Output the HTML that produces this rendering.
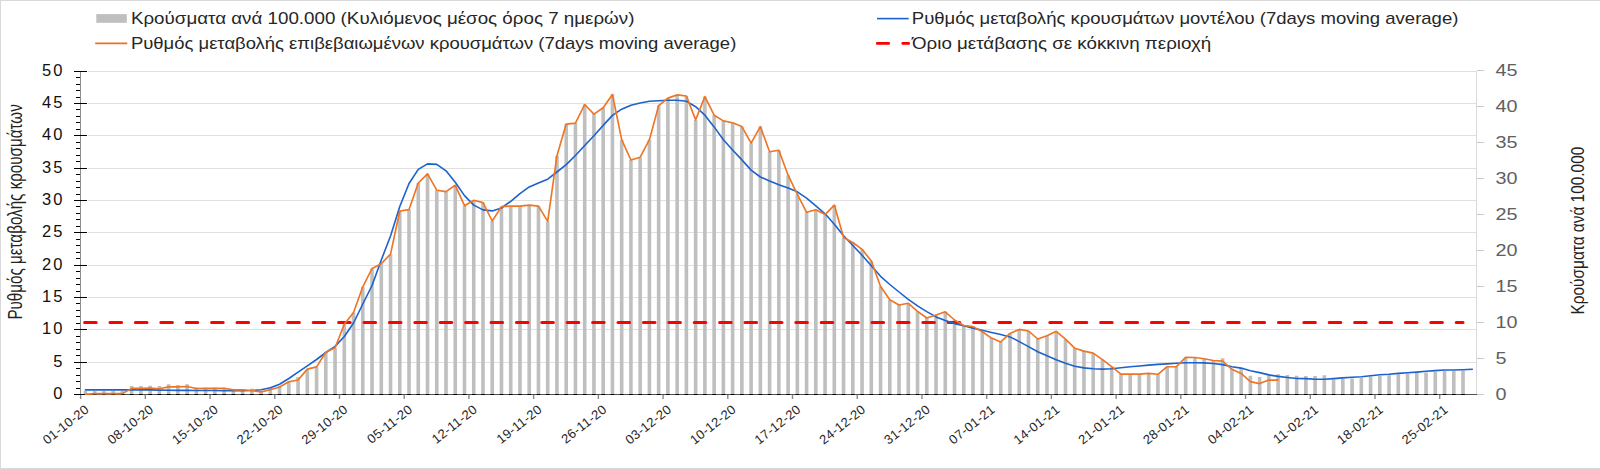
<!DOCTYPE html><html><head><meta charset="utf-8"><title>Chart</title><style>
html,body{margin:0;padding:0;background:#fff;}svg{display:block;}
text{font-family:'Liberation Sans', Arial, sans-serif;}
</style></head><body>
<svg width="1600" height="469" viewBox="0 0 1600 469">
<rect x="0" y="0" width="1600" height="469" fill="#fff"/>
<rect x="0.5" y="0.5" width="1610" height="468" fill="none" stroke="#d9d9d9" stroke-width="1"/>
<path d="M88,362.5H1476.9 M88,329.5H1476.9 M88,297.5H1476.9 M88,265.5H1476.9 M88,232.5H1476.9 M88,200.5H1476.9 M88,168.5H1476.9 M88,135.5H1476.9 M88,103.5H1476.9 M88,71.5H1476.9" stroke="#e0e0e0" stroke-width="1" fill="none"/>
<path d="M83.62,391.00h3.6v3.50h-3.6z M92.87,391.00h3.6v3.50h-3.6z M102.11,391.00h3.6v3.50h-3.6z M111.36,391.00h3.6v3.50h-3.6z M120.61,391.00h3.6v3.50h-3.6z M129.85,386.10h3.6v8.40h-3.6z M139.10,386.10h3.6v8.40h-3.6z M148.34,385.80h3.6v8.70h-3.6z M157.59,386.10h3.6v8.40h-3.6z M166.83,384.30h3.6v10.20h-3.6z M176.08,385.00h3.6v9.50h-3.6z M185.33,384.30h3.6v10.20h-3.6z M194.57,387.50h3.6v7.00h-3.6z M203.82,387.70h3.6v6.80h-3.6z M213.06,387.70h3.6v6.80h-3.6z M222.31,387.70h3.6v6.80h-3.6z M231.55,389.10h3.6v5.40h-3.6z M240.80,389.10h3.6v5.40h-3.6z M250.05,388.80h3.6v5.70h-3.6z M259.29,391.00h3.6v3.50h-3.6z M268.54,387.70h3.6v6.80h-3.6z M277.78,386.30h3.6v8.20h-3.6z M287.03,381.40h3.6v13.10h-3.6z M296.27,377.10h3.6v17.40h-3.6z M305.52,370.10h3.6v24.40h-3.6z M314.77,366.90h3.6v27.60h-3.6z M324.01,352.30h3.6v42.20h-3.6z M333.26,347.80h3.6v46.70h-3.6z M342.50,324.20h3.6v70.30h-3.6z M351.75,312.50h3.6v82.00h-3.6z M360.99,286.80h3.6v107.70h-3.6z M370.24,268.50h3.6v126.00h-3.6z M379.49,263.70h3.6v130.80h-3.6z M388.73,254.20h3.6v140.30h-3.6z M397.98,211.00h3.6v183.50h-3.6z M407.22,209.60h3.6v184.90h-3.6z M416.47,183.00h3.6v211.50h-3.6z M425.71,173.80h3.6v220.70h-3.6z M434.96,190.20h3.6v204.30h-3.6z M444.20,191.60h3.6v202.90h-3.6z M453.45,185.30h3.6v209.20h-3.6z M462.70,205.70h3.6v188.80h-3.6z M471.94,200.30h3.6v194.20h-3.6z M481.19,202.60h3.6v191.90h-3.6z M490.43,221.00h3.6v173.50h-3.6z M499.68,206.60h3.6v187.90h-3.6z M508.92,206.10h3.6v188.40h-3.6z M518.17,206.10h3.6v188.40h-3.6z M527.42,205.10h3.6v189.40h-3.6z M536.66,206.10h3.6v188.40h-3.6z M545.91,221.40h3.6v173.10h-3.6z M555.15,155.70h3.6v238.80h-3.6z M564.40,124.10h3.6v270.40h-3.6z M573.64,123.10h3.6v271.40h-3.6z M582.89,104.50h3.6v290.00h-3.6z M592.14,114.10h3.6v280.40h-3.6z M601.38,107.70h3.6v286.80h-3.6z M610.63,94.50h3.6v300.00h-3.6z M619.87,139.70h3.6v254.80h-3.6z M629.12,160.00h3.6v234.50h-3.6z M638.36,157.20h3.6v237.30h-3.6z M647.61,139.70h3.6v254.80h-3.6z M656.86,105.60h3.6v288.90h-3.6z M666.10,98.10h3.6v296.40h-3.6z M675.35,94.90h3.6v299.60h-3.6z M684.59,96.00h3.6v298.50h-3.6z M693.84,119.90h3.6v274.60h-3.6z M703.08,96.60h3.6v297.90h-3.6z M712.33,115.20h3.6v279.30h-3.6z M721.58,120.90h3.6v273.60h-3.6z M730.82,122.70h3.6v271.80h-3.6z M740.07,126.60h3.6v267.90h-3.6z M749.31,143.20h3.6v251.30h-3.6z M758.56,126.60h3.6v267.90h-3.6z M767.80,151.70h3.6v242.80h-3.6z M777.05,150.20h3.6v244.30h-3.6z M786.30,175.20h3.6v219.30h-3.6z M795.54,194.40h3.6v200.10h-3.6z M804.79,212.30h3.6v182.20h-3.6z M814.03,209.70h3.6v184.80h-3.6z M823.28,214.60h3.6v179.90h-3.6z M832.52,205.10h3.6v189.40h-3.6z M841.77,237.50h3.6v157.00h-3.6z M851.02,242.50h3.6v152.00h-3.6z M860.26,249.30h3.6v145.20h-3.6z M869.51,261.00h3.6v133.50h-3.6z M878.75,286.50h3.6v108.00h-3.6z M888.00,299.80h3.6v94.70h-3.6z M897.24,305.00h3.6v89.50h-3.6z M906.49,303.30h3.6v91.20h-3.6z M915.74,311.30h3.6v83.20h-3.6z M924.98,318.00h3.6v76.50h-3.6z M934.23,315.00h3.6v79.50h-3.6z M943.47,311.80h3.6v82.70h-3.6z M952.72,320.00h3.6v74.50h-3.6z M961.96,325.50h3.6v69.00h-3.6z M971.21,326.60h3.6v67.90h-3.6z M980.46,331.80h3.6v62.70h-3.6z M989.70,338.10h3.6v56.40h-3.6z M998.95,341.90h3.6v52.60h-3.6z M1008.19,333.40h3.6v61.10h-3.6z M1017.44,329.40h3.6v65.10h-3.6z M1026.68,331.00h3.6v63.50h-3.6z M1035.93,339.00h3.6v55.50h-3.6z M1045.18,335.80h3.6v58.70h-3.6z M1054.42,331.30h3.6v63.20h-3.6z M1063.67,339.20h3.6v55.30h-3.6z M1072.91,348.20h3.6v46.30h-3.6z M1082.16,351.10h3.6v43.40h-3.6z M1091.40,353.10h3.6v41.40h-3.6z M1100.65,359.60h3.6v34.90h-3.6z M1109.90,366.70h3.6v27.80h-3.6z M1119.14,374.10h3.6v20.40h-3.6z M1128.39,374.10h3.6v20.40h-3.6z M1137.63,374.10h3.6v20.40h-3.6z M1146.88,373.40h3.6v21.10h-3.6z M1156.12,374.30h3.6v20.20h-3.6z M1165.37,366.70h3.6v27.80h-3.6z M1174.61,366.70h3.6v27.80h-3.6z M1183.86,357.40h3.6v37.10h-3.6z M1193.11,357.50h3.6v37.00h-3.6z M1202.35,358.80h3.6v35.70h-3.6z M1211.60,360.50h3.6v34.00h-3.6z M1220.84,358.20h3.6v36.30h-3.6z M1230.09,368.70h3.6v25.80h-3.6z M1239.33,368.70h3.6v25.80h-3.6z M1248.58,375.80h3.6v18.70h-3.6z M1257.83,376.90h3.6v17.60h-3.6z M1267.07,375.20h3.6v19.30h-3.6z M1276.32,374.20h3.6v20.30h-3.6z M1285.56,374.90h3.6v19.60h-3.6z M1294.81,375.70h3.6v18.80h-3.6z M1304.05,376.00h3.6v18.50h-3.6z M1313.30,376.00h3.6v18.50h-3.6z M1322.55,375.30h3.6v19.20h-3.6z M1331.79,379.50h3.6v15.00h-3.6z M1341.04,379.00h3.6v15.50h-3.6z M1350.28,378.50h3.6v16.00h-3.6z M1359.53,377.90h3.6v16.60h-3.6z M1368.77,376.50h3.6v18.00h-3.6z M1378.02,376.00h3.6v18.50h-3.6z M1387.27,375.30h3.6v19.20h-3.6z M1396.51,374.20h3.6v20.30h-3.6z M1405.76,373.70h3.6v20.80h-3.6z M1415.00,373.10h3.6v21.40h-3.6z M1424.25,372.50h3.6v22.00h-3.6z M1433.49,372.00h3.6v22.50h-3.6z M1442.74,371.00h3.6v23.50h-3.6z M1451.99,371.00h3.6v23.50h-3.6z M1461.23,370.80h3.6v23.70h-3.6z" fill="#bfbfbf"/>
<path d="M1476.5,71V395" stroke="#d9d9d9" stroke-width="1"/>
<path d="M1477,394.5H1484 M1477,358.5H1484 M1477,322.5H1484 M1477,286.5H1484 M1477,250.5H1484 M1477,214.5H1484 M1477,178.5H1484 M1477,142.5H1484 M1477,106.5H1484 M1477,70.5H1484" stroke="#c8c8c8" stroke-width="1"/>
<path d="M74,394.5H1477" stroke="#505050" stroke-width="1"/>
<path d="M83.62,394.5h3.6 M92.87,394.5h3.6 M102.11,394.5h3.6 M111.36,394.5h3.6 M120.61,394.5h3.6 M129.85,394.5h3.6 M139.10,394.5h3.6 M148.34,394.5h3.6 M157.59,394.5h3.6 M166.83,394.5h3.6 M176.08,394.5h3.6 M185.33,394.5h3.6 M194.57,394.5h3.6 M203.82,394.5h3.6 M213.06,394.5h3.6 M222.31,394.5h3.6 M231.55,394.5h3.6 M240.80,394.5h3.6 M250.05,394.5h3.6 M259.29,394.5h3.6 M268.54,394.5h3.6 M277.78,394.5h3.6 M287.03,394.5h3.6 M296.27,394.5h3.6 M305.52,394.5h3.6 M314.77,394.5h3.6 M324.01,394.5h3.6 M333.26,394.5h3.6 M342.50,394.5h3.6 M351.75,394.5h3.6 M360.99,394.5h3.6 M370.24,394.5h3.6 M379.49,394.5h3.6 M388.73,394.5h3.6 M397.98,394.5h3.6 M407.22,394.5h3.6 M416.47,394.5h3.6 M425.71,394.5h3.6 M434.96,394.5h3.6 M444.20,394.5h3.6 M453.45,394.5h3.6 M462.70,394.5h3.6 M471.94,394.5h3.6 M481.19,394.5h3.6 M490.43,394.5h3.6 M499.68,394.5h3.6 M508.92,394.5h3.6 M518.17,394.5h3.6 M527.42,394.5h3.6 M536.66,394.5h3.6 M545.91,394.5h3.6 M555.15,394.5h3.6 M564.40,394.5h3.6 M573.64,394.5h3.6 M582.89,394.5h3.6 M592.14,394.5h3.6 M601.38,394.5h3.6 M610.63,394.5h3.6 M619.87,394.5h3.6 M629.12,394.5h3.6 M638.36,394.5h3.6 M647.61,394.5h3.6 M656.86,394.5h3.6 M666.10,394.5h3.6 M675.35,394.5h3.6 M684.59,394.5h3.6 M693.84,394.5h3.6 M703.08,394.5h3.6 M712.33,394.5h3.6 M721.58,394.5h3.6 M730.82,394.5h3.6 M740.07,394.5h3.6 M749.31,394.5h3.6 M758.56,394.5h3.6 M767.80,394.5h3.6 M777.05,394.5h3.6 M786.30,394.5h3.6 M795.54,394.5h3.6 M804.79,394.5h3.6 M814.03,394.5h3.6 M823.28,394.5h3.6 M832.52,394.5h3.6 M841.77,394.5h3.6 M851.02,394.5h3.6 M860.26,394.5h3.6 M869.51,394.5h3.6 M878.75,394.5h3.6 M888.00,394.5h3.6 M897.24,394.5h3.6 M906.49,394.5h3.6 M915.74,394.5h3.6 M924.98,394.5h3.6 M934.23,394.5h3.6 M943.47,394.5h3.6 M952.72,394.5h3.6 M961.96,394.5h3.6 M971.21,394.5h3.6 M980.46,394.5h3.6 M989.70,394.5h3.6 M998.95,394.5h3.6 M1008.19,394.5h3.6 M1017.44,394.5h3.6 M1026.68,394.5h3.6 M1035.93,394.5h3.6 M1045.18,394.5h3.6 M1054.42,394.5h3.6 M1063.67,394.5h3.6 M1072.91,394.5h3.6 M1082.16,394.5h3.6 M1091.40,394.5h3.6 M1100.65,394.5h3.6 M1109.90,394.5h3.6 M1119.14,394.5h3.6 M1128.39,394.5h3.6 M1137.63,394.5h3.6 M1146.88,394.5h3.6 M1156.12,394.5h3.6 M1165.37,394.5h3.6 M1174.61,394.5h3.6 M1183.86,394.5h3.6 M1193.11,394.5h3.6 M1202.35,394.5h3.6 M1211.60,394.5h3.6 M1220.84,394.5h3.6 M1230.09,394.5h3.6 M1239.33,394.5h3.6 M1248.58,394.5h3.6 M1257.83,394.5h3.6 M1267.07,394.5h3.6 M1276.32,394.5h3.6 M1285.56,394.5h3.6 M1294.81,394.5h3.6 M1304.05,394.5h3.6 M1313.30,394.5h3.6 M1322.55,394.5h3.6 M1331.79,394.5h3.6 M1341.04,394.5h3.6 M1350.28,394.5h3.6 M1359.53,394.5h3.6 M1368.77,394.5h3.6 M1378.02,394.5h3.6 M1387.27,394.5h3.6 M1396.51,394.5h3.6 M1405.76,394.5h3.6 M1415.00,394.5h3.6 M1424.25,394.5h3.6 M1433.49,394.5h3.6 M1442.74,394.5h3.6 M1451.99,394.5h3.6 M1461.23,394.5h3.6" stroke="#000" stroke-width="1"/>
<path d="M80.60,395V399 M145.32,395V399 M210.04,395V399 M274.76,395V399 M339.48,395V399 M404.20,395V399 M468.92,395V399 M533.64,395V399 M598.36,395V399 M663.08,395V399 M727.80,395V399 M792.52,395V399 M857.24,395V399 M921.96,395V399 M986.68,395V399 M1051.40,395V399 M1116.12,395V399 M1180.84,395V399 M1245.56,395V399 M1310.28,395V399 M1375.00,395V399 M1439.72,395V399" stroke="#8a8a8a" stroke-width="1.4"/>
<path d="M80.5,71V399" stroke="#8c8c8c" stroke-width="1"/>
<path d="M74,394.5H87 M76,388.5H80 M76,381.5H80 M76,375.5H80 M76,368.5H80 M74,362.5H87 M76,355.5H80 M76,349.5H80 M76,342.5H80 M76,336.5H80 M74,329.5H87 M76,323.5H80 M76,316.5H80 M76,310.5H80 M76,303.5H80 M74,297.5H87 M76,291.5H80 M76,284.5H80 M76,278.5H80 M76,271.5H80 M74,265.5H87 M76,258.5H80 M76,252.5H80 M76,245.5H80 M76,239.5H80 M74,232.5H87 M76,226.5H80 M76,219.5H80 M76,213.5H80 M76,206.5H80 M74,200.5H87 M76,194.5H80 M76,187.5H80 M76,181.5H80 M76,174.5H80 M74,168.5H87 M76,161.5H80 M76,155.5H80 M76,148.5H80 M76,142.5H80 M74,135.5H87 M76,129.5H80 M76,122.5H80 M76,116.5H80 M76,109.5H80 M74,103.5H87 M76,97.5H80 M76,90.5H80 M76,84.5H80 M76,77.5H80 M74,71.5H87" stroke="#000" stroke-width="1"/>
<path d="M84.6,322.6H1463.03" stroke="#ff0000" stroke-width="3" stroke-linecap="round" stroke-dasharray="11.6 13.8" fill="none"/>
<path d="M85.42,389.90 L94.67,389.90 L103.91,389.90 L113.16,389.90 L122.41,389.90 L131.65,389.90 L140.90,389.90 L150.14,389.90 L159.39,390.10 L168.63,390.30 L177.88,390.40 L187.13,390.40 L196.37,390.50 L205.62,390.50 L214.86,390.50 L224.11,390.70 L233.35,390.70 L242.60,390.70 L251.85,390.50 L261.09,389.80 L270.34,387.70 L279.58,384.20 L288.83,378.50 L298.07,372.20 L307.32,365.90 L316.57,359.50 L325.81,352.50 L335.06,346.40 L344.30,336.50 L353.55,323.00 L362.79,304.00 L372.04,285.50 L381.29,260.00 L390.53,236.00 L399.78,206.50 L409.02,183.50 L418.27,169.40 L427.51,163.90 L436.76,164.40 L446.00,170.80 L455.25,182.30 L464.50,195.60 L473.74,205.10 L482.99,209.90 L492.23,210.90 L501.48,208.00 L510.72,201.30 L519.97,193.60 L529.22,186.90 L538.46,183.00 L547.71,179.20 L556.95,172.00 L566.20,164.60 L575.44,155.50 L584.69,145.50 L593.94,135.70 L603.18,125.40 L612.43,115.40 L621.67,109.20 L630.92,105.20 L640.16,103.00 L649.41,101.30 L658.66,100.70 L667.90,100.30 L677.15,100.30 L686.39,101.30 L695.64,106.70 L704.88,115.20 L714.13,126.90 L723.38,139.70 L732.62,150.00 L741.87,159.90 L751.11,170.10 L760.36,177.00 L769.60,181.10 L778.85,184.70 L788.10,188.00 L797.34,191.80 L806.59,198.20 L815.83,205.90 L825.08,213.80 L834.32,224.30 L843.57,235.80 L852.82,245.50 L862.06,255.30 L871.31,265.80 L880.55,276.30 L889.80,284.50 L899.04,292.00 L908.29,299.30 L917.54,305.90 L926.78,311.60 L936.03,316.90 L945.27,320.60 L954.52,323.60 L963.76,325.80 L973.01,328.10 L982.26,330.30 L991.50,332.50 L1000.75,334.50 L1009.99,336.90 L1019.24,341.60 L1028.48,346.60 L1037.73,351.80 L1046.98,355.80 L1056.22,359.70 L1065.47,363.30 L1074.71,366.30 L1083.96,367.90 L1093.20,368.70 L1102.45,369.10 L1111.70,368.80 L1120.94,367.80 L1130.19,366.70 L1139.43,366.00 L1148.68,365.10 L1157.92,364.40 L1167.17,363.90 L1176.41,363.30 L1185.66,362.80 L1194.91,362.80 L1204.15,362.90 L1213.40,363.50 L1222.64,364.60 L1231.89,366.70 L1241.13,368.10 L1250.38,370.70 L1259.63,372.60 L1268.87,374.90 L1278.12,376.40 L1287.36,377.50 L1296.61,378.50 L1305.85,378.60 L1315.10,379.20 L1324.35,379.20 L1333.59,378.60 L1342.84,377.90 L1352.08,377.30 L1361.33,376.70 L1370.57,375.70 L1379.82,374.80 L1389.07,374.30 L1398.31,373.40 L1407.56,372.70 L1416.80,372.10 L1426.05,371.30 L1435.29,370.60 L1444.54,370.00 L1453.79,370.00 L1463.03,369.70 L1472.28,369.20" stroke="#1c62cc" stroke-width="1.6" fill="none" stroke-linejoin="round" stroke-linecap="round"/>
<path d="M85.42,394.20 L94.67,393.60 L103.91,393.60 L113.16,393.60 L122.41,393.60 L131.65,388.40 L140.90,388.40 L150.14,388.00 L159.39,388.70 L168.63,386.90 L177.88,386.90 L187.13,386.50 L196.37,388.50 L205.62,388.40 L214.86,388.40 L224.11,388.40 L233.35,389.80 L242.60,389.80 L251.85,390.50 L261.09,391.90 L270.34,389.80 L279.58,387.00 L288.83,381.80 L298.07,380.00 L307.32,369.10 L316.57,366.90 L325.81,352.30 L335.06,347.80 L344.30,324.20 L353.55,312.50 L362.79,286.80 L372.04,268.50 L381.29,263.70 L390.53,254.20 L399.78,211.00 L409.02,209.60 L418.27,183.00 L427.51,173.80 L436.76,190.20 L446.00,191.60 L455.25,185.30 L464.50,205.70 L473.74,200.30 L482.99,202.60 L492.23,221.00 L501.48,206.60 L510.72,206.10 L519.97,206.10 L529.22,205.10 L538.46,206.10 L547.71,221.40 L556.95,155.70 L566.20,124.10 L575.44,123.10 L584.69,104.50 L593.94,114.10 L603.18,107.70 L612.43,94.50 L621.67,139.70 L630.92,160.00 L640.16,157.20 L649.41,139.70 L658.66,105.60 L667.90,98.10 L677.15,94.90 L686.39,96.00 L695.64,119.90 L704.88,96.60 L714.13,115.20 L723.38,120.90 L732.62,122.70 L741.87,126.60 L751.11,143.20 L760.36,126.60 L769.60,151.70 L778.85,150.20 L788.10,175.20 L797.34,194.40 L806.59,212.30 L815.83,209.70 L825.08,214.60 L834.32,205.10 L843.57,237.50 L852.82,242.50 L862.06,249.30 L871.31,261.00 L880.55,286.50 L889.80,299.80 L899.04,305.00 L908.29,303.30 L917.54,311.30 L926.78,318.00 L936.03,315.00 L945.27,311.80 L954.52,320.00 L963.76,325.50 L973.01,326.60 L982.26,331.80 L991.50,338.10 L1000.75,341.90 L1009.99,333.40 L1019.24,329.40 L1028.48,331.00 L1037.73,339.00 L1046.98,335.80 L1056.22,331.30 L1065.47,339.20 L1074.71,348.20 L1083.96,351.10 L1093.20,353.10 L1102.45,359.60 L1111.70,366.70 L1120.94,374.10 L1130.19,374.10 L1139.43,374.10 L1148.68,373.40 L1157.92,374.30 L1167.17,366.70 L1176.41,366.70 L1185.66,357.40 L1194.91,357.50 L1204.15,358.80 L1213.40,360.50 L1222.64,361.10 L1231.89,369.30 L1241.13,373.40 L1250.38,381.60 L1259.63,383.60 L1268.87,380.10 L1278.12,380.10" stroke="#ee7524" stroke-width="1.65" fill="none" stroke-linejoin="round" stroke-linecap="round"/>
<text x="64.70" y="399.00" font-size="16.5" letter-spacing="2.20" text-anchor="end" fill="#111">0</text>
<text x="64.70" y="367.00" font-size="16.5" letter-spacing="2.20" text-anchor="end" fill="#111">5</text>
<text x="64.70" y="334.00" font-size="16.5" letter-spacing="2.20" text-anchor="end" fill="#111">10</text>
<text x="64.70" y="302.00" font-size="16.5" letter-spacing="2.20" text-anchor="end" fill="#111">15</text>
<text x="64.70" y="270.00" font-size="16.5" letter-spacing="2.20" text-anchor="end" fill="#111">20</text>
<text x="64.70" y="237.00" font-size="16.5" letter-spacing="2.20" text-anchor="end" fill="#111">25</text>
<text x="64.70" y="205.00" font-size="16.5" letter-spacing="2.20" text-anchor="end" fill="#111">30</text>
<text x="64.70" y="173.00" font-size="16.5" letter-spacing="2.20" text-anchor="end" fill="#111">35</text>
<text x="64.70" y="140.00" font-size="16.5" letter-spacing="2.20" text-anchor="end" fill="#111">40</text>
<text x="64.70" y="108.00" font-size="16.5" letter-spacing="2.20" text-anchor="end" fill="#111">45</text>
<text x="64.70" y="76.00" font-size="16.5" letter-spacing="2.20" text-anchor="end" fill="#111">50</text>
<text transform="translate(1495.6,399.90) scale(1.2,1)" font-size="16.5" fill="#606060">0</text>
<text transform="translate(1495.6,363.90) scale(1.2,1)" font-size="16.5" fill="#606060">5</text>
<text transform="translate(1495.6,327.90) scale(1.2,1)" font-size="16.5" fill="#606060">10</text>
<text transform="translate(1495.6,291.90) scale(1.2,1)" font-size="16.5" fill="#606060">15</text>
<text transform="translate(1495.6,255.90) scale(1.2,1)" font-size="16.5" fill="#606060">20</text>
<text transform="translate(1495.6,219.90) scale(1.2,1)" font-size="16.5" fill="#606060">25</text>
<text transform="translate(1495.6,183.90) scale(1.2,1)" font-size="16.5" fill="#606060">30</text>
<text transform="translate(1495.6,147.90) scale(1.2,1)" font-size="16.5" fill="#606060">35</text>
<text transform="translate(1495.6,111.90) scale(1.2,1)" font-size="16.5" fill="#606060">40</text>
<text transform="translate(1495.6,75.90) scale(1.2,1)" font-size="16.5" fill="#606060">45</text>
<text transform="translate(89.80,411) rotate(-38.5)" font-size="13" letter-spacing="0.3" text-anchor="end" fill="#262626">01-10-20</text>
<text transform="translate(154.52,411) rotate(-38.5)" font-size="13" letter-spacing="0.3" text-anchor="end" fill="#262626">08-10-20</text>
<text transform="translate(219.24,411) rotate(-38.5)" font-size="13" letter-spacing="0.3" text-anchor="end" fill="#262626">15-10-20</text>
<text transform="translate(283.96,411) rotate(-38.5)" font-size="13" letter-spacing="0.3" text-anchor="end" fill="#262626">22-10-20</text>
<text transform="translate(348.68,411) rotate(-38.5)" font-size="13" letter-spacing="0.3" text-anchor="end" fill="#262626">29-10-20</text>
<text transform="translate(413.40,411) rotate(-38.5)" font-size="13" letter-spacing="0.3" text-anchor="end" fill="#262626">05-11-20</text>
<text transform="translate(478.12,411) rotate(-38.5)" font-size="13" letter-spacing="0.3" text-anchor="end" fill="#262626">12-11-20</text>
<text transform="translate(542.84,411) rotate(-38.5)" font-size="13" letter-spacing="0.3" text-anchor="end" fill="#262626">19-11-20</text>
<text transform="translate(607.56,411) rotate(-38.5)" font-size="13" letter-spacing="0.3" text-anchor="end" fill="#262626">26-11-20</text>
<text transform="translate(672.28,411) rotate(-38.5)" font-size="13" letter-spacing="0.3" text-anchor="end" fill="#262626">03-12-20</text>
<text transform="translate(737.00,411) rotate(-38.5)" font-size="13" letter-spacing="0.3" text-anchor="end" fill="#262626">10-12-20</text>
<text transform="translate(801.72,411) rotate(-38.5)" font-size="13" letter-spacing="0.3" text-anchor="end" fill="#262626">17-12-20</text>
<text transform="translate(866.44,411) rotate(-38.5)" font-size="13" letter-spacing="0.3" text-anchor="end" fill="#262626">24-12-20</text>
<text transform="translate(931.16,411) rotate(-38.5)" font-size="13" letter-spacing="0.3" text-anchor="end" fill="#262626">31-12-20</text>
<text transform="translate(995.88,411) rotate(-38.5)" font-size="13" letter-spacing="0.3" text-anchor="end" fill="#262626">07-01-21</text>
<text transform="translate(1060.60,411) rotate(-38.5)" font-size="13" letter-spacing="0.3" text-anchor="end" fill="#262626">14-01-21</text>
<text transform="translate(1125.32,411) rotate(-38.5)" font-size="13" letter-spacing="0.3" text-anchor="end" fill="#262626">21-01-21</text>
<text transform="translate(1190.04,411) rotate(-38.5)" font-size="13" letter-spacing="0.3" text-anchor="end" fill="#262626">28-01-21</text>
<text transform="translate(1254.76,411) rotate(-38.5)" font-size="13" letter-spacing="0.3" text-anchor="end" fill="#262626">04-02-21</text>
<text transform="translate(1319.48,411) rotate(-38.5)" font-size="13" letter-spacing="0.3" text-anchor="end" fill="#262626">11-02-21</text>
<text transform="translate(1384.20,411) rotate(-38.5)" font-size="13" letter-spacing="0.3" text-anchor="end" fill="#262626">18-02-21</text>
<text transform="translate(1448.92,411) rotate(-38.5)" font-size="13" letter-spacing="0.3" text-anchor="end" fill="#262626">25-02-21</text>
<text transform="translate(21.6,211.9) scale(1.33,1) rotate(-90)" font-size="15.2" text-anchor="middle" fill="#222">Ρυθμός μεταβολής κρουσμάτων</text>
<text transform="translate(1584.3,230.6) scale(1.235,1) rotate(-90)" font-size="15.4" text-anchor="middle" fill="#222">Κρούσματα ανά 100.000</text>
<rect x="96.3" y="14.1" width="30.5" height="8.7" fill="#bfbfbf"/>
<path d="M95.2,43.4H127.3" stroke="#ee7020" stroke-width="1.7"/>
<path d="M877,18.6H908.7" stroke="#1c62cc" stroke-width="1.6"/>
<path d="M877.3,43.4H888.6M902.8,43.4H908.6" stroke="#ff0000" stroke-width="2.9" stroke-linecap="round"/>
<text transform="translate(130.90,24.10) scale(1.1733,1)" font-size="16.0" fill="#262626">Κρούσματα ανά 100.000 (Κυλιόμενος μέσος όρος 7 ημερών)</text>
<text transform="translate(130.90,48.80) scale(1.1548,1)" font-size="16.0" fill="#262626">Ρυθμός μεταβολής επιβεβαιωμένων κρουσμάτων (7days moving average)</text>
<text transform="translate(911.80,24.10) scale(1.1581,1)" font-size="16.0" fill="#262626">Ρυθμός μεταβολής κρουσμάτων μοντέλου (7days moving average)</text>
<text transform="translate(912.00,48.80) scale(1.1733,1)" font-size="16.0" fill="#262626">Όριο μετάβασης σε κόκκινη περιοχή</text>
</svg></body></html>
